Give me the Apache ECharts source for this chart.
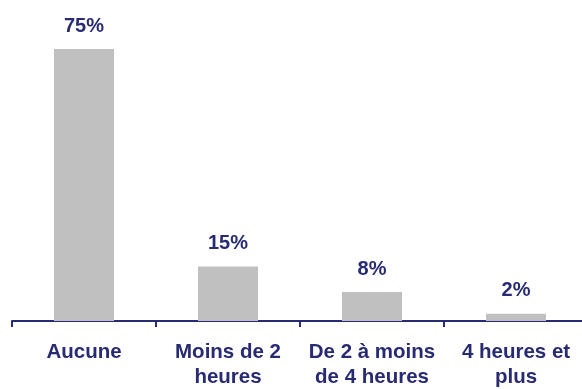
<!DOCTYPE html>
<html>
<head>
<meta charset="utf-8">
<script src="https://cdn.jsdelivr.net/npm/echarts@6/dist/echarts.min.js"></script>
<style>
html,body{margin:0;padding:0;background:#fff;}
#c{width:582px;height:389px;}
</style>
</head>
<body>
<div id="c"></div>
<script>
var categories = ["Aucune", "Moins de 2\nheures", "De 2 à moins\nde 4 heures", "4 heures et\nplus"];
var values = [75, 15, 8, 2];
var valueLabels = ["75%", "15%", "8%", "2%"];

var navy = '#282A72';
var chart = echarts.init(document.getElementById('c'), null, {renderer: 'canvas'});
chart.setOption({
  animation: false,
  grid: {left: 12, top: 49, width: 576, height: 272, containLabel: false, outerBoundsMode: 'none'},
  xAxis: {
    type: 'category',
    data: categories,
    boundaryGap: true,
    axisLine: {show: true, lineStyle: {color: navy, width: 2}},
    axisTick: {show: true, length: 6, alignWithLabel: false, lineStyle: {color: navy, width: 2}},
    axisLabel: {
      interval: 0, color: navy, fontFamily: 'Liberation Sans, Arial, sans-serif',
      fontWeight: 'bold', fontSize: 20.5, lineHeight: 25, margin: 19,
      hideOverlap: false
    }
  },
  yAxis: {type: 'value', min: 0, max: 75, show: false, splitLine: {show: false}},
  series: [{
    type: 'bar',
    data: values,
    barWidth: 60,
    itemStyle: {color: '#C0C0C0'},
    label: {
      show: true, position: 'top', distance: 13,
      formatter: function (p) { return valueLabels[p.dataIndex]; },
      color: navy, fontFamily: 'Liberation Sans, Arial, sans-serif',
      fontWeight: 'bold', fontSize: 20
    }
  }]
});
</script>
</body>
</html>
